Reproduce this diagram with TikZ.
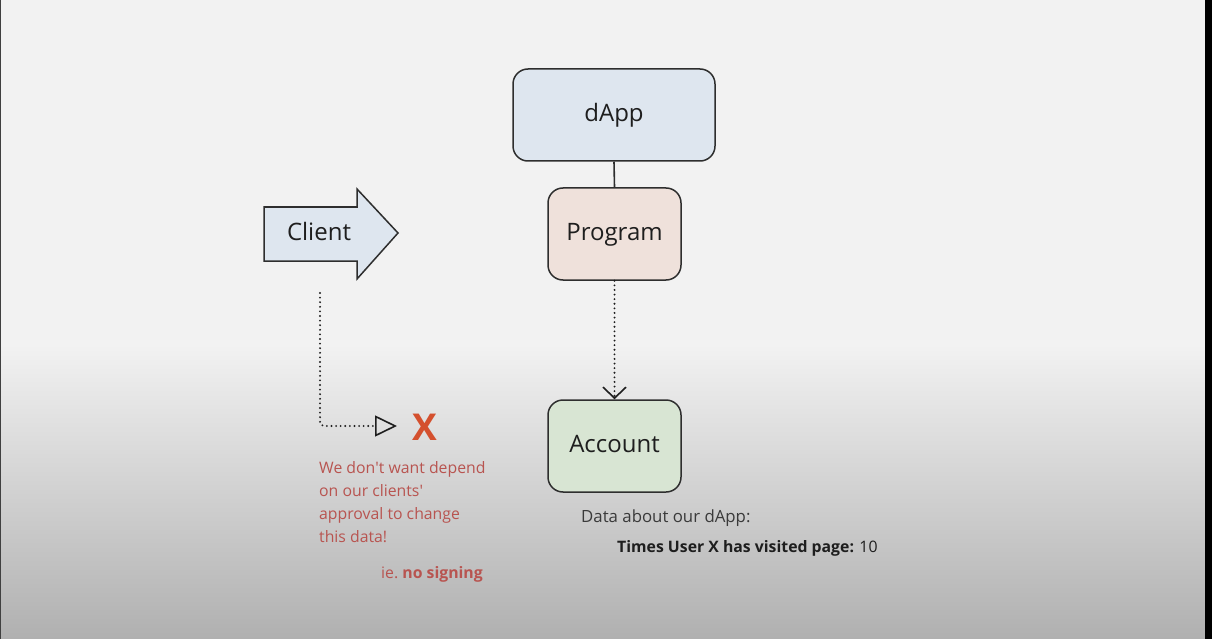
\documentclass[tikz,border=0pt]{standalone}
\usepackage{fontspec}
\setmainfont{Open Sans}
\usetikzlibrary{arrows.meta}
\definecolor{bgtop}{HTML}{F2F2F2}
\definecolor{bgbot}{HTML}{B0B0B0}
\definecolor{edge}{HTML}{2E2E2E}
\definecolor{bluefill}{HTML}{DEE6EF}
\definecolor{pinkfill}{HTML}{EFE1DB}
\definecolor{greenfill}{HTML}{D8E5D3}
\definecolor{redtext}{HTML}{B85450}
\definecolor{redx}{HTML}{D4502E}
\definecolor{ink}{HTML}{1E1E1E}
\definecolor{grey}{HTML}{3A3A3A}
\begin{document}
\begin{tikzpicture}[x=1pt,y=-1pt,
  box/.style={draw=edge, line width=1.5pt, rounded corners=15pt,
    font=\fontsize{24}{28}\selectfont, text=ink, text height=18pt, text depth=5pt, inner sep=0pt},
  label/.style={font=\fontsize{24}{28}\selectfont, text=ink, text height=18pt, text depth=5pt, inner sep=0pt},
  dots/.style={line width=2.1pt, dash pattern=on 0pt off 4.6pt, line cap=round, draw=ink},
  rednote/.style={font=\fontsize{15.8}{18}\selectfont, text=redtext, inner sep=0pt, anchor=base west},
  datanote/.style={font=\fontsize{16.8}{18}\selectfont, text=grey, inner sep=0pt, anchor=base west},
]
% background
\useasboundingbox (0,0) rectangle (1212,639);
\fill[bgtop] (0,0) rectangle (1212,345);
\shade[top color=bgtop, bottom color=bgbot] (0,344) rectangle (1212,639);
\fill[black!75] (0,0) rectangle (1.2,639);
\fill[black] (1205,0) rectangle (1212,639);

% boxes
\node[box, fill=bluefill, minimum width=202pt, minimum height=92pt] (dapp) at (614,115) {dApp};
\node[box, fill=pinkfill, minimum width=133pt, minimum height=92pt] (program) at (614.5,234) {Program};
\node[box, fill=greenfill, minimum width=133pt, minimum height=92pt] (account) at (614.5,446) {Account};

\draw[draw=edge, line width=1.6pt] (dapp.south) -- (program.north);
\draw[dots, -{Straight Barb[length=11pt, width=23pt, line width=1.6pt, line cap=butt]}] (program.south) -- (account.north);

% client arrow
\draw[draw=edge, line width=1.5pt, fill=bluefill]
  (264,207) -- (357,207) -- (357,189) -- (398,233) -- (357,279) -- (357,261) -- (264,261) -- cycle;
\node[label] (client) at (319,234) {Client};

% dotted connector to X
\coordinate (cstart) at (320,293);
\coordinate (ctip) at (397,426);
\draw[dots, rounded corners=4pt, -{Triangle[open, length=22pt, width=21pt, line width=1.6pt]}]
  (cstart) |- (ctip);
\node[font=\fontsize{37}{40}\selectfont\bfseries, text=redx, inner sep=0pt, anchor=base] (xmark) at (425,440) {X};

% red notes
\node[rednote] (n1) at (319,473) {We don\textquotesingle t want depend};
\node[rednote] (n2) at (319,496) {on our clients\textquotesingle};
\node[rednote] (n3) at (319,519) {approval to change};
\node[rednote] (n4) at (319,542) {this data!};
\node[rednote, anchor=base east] (n5) at (483,578) {ie.\ \textbf{no signing}};

% data notes
\node[datanote] (d1) at (581,522) {Data about our dApp:};
\node[datanote, font=\fontsize{15.8}{18}\selectfont, text=ink] (d2) at (617,552) {\textbf{Times User X has visited page:} 10};
\end{tikzpicture}
\end{document}
